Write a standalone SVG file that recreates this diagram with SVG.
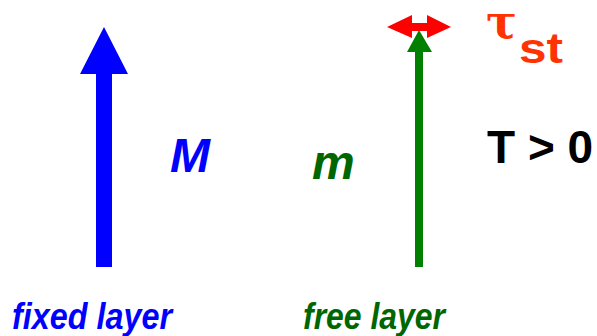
<svg xmlns="http://www.w3.org/2000/svg" width="597" height="336" viewBox="0 0 597 336">
<style>
text{font-family:"Liberation Sans",Arial,sans-serif;font-weight:bold}
.it{font-style:italic}
.greek{font-family:"DejaVu Serif",serif;font-weight:bold}
</style>
<rect width="597" height="336" fill="#fff"/>
<g id="fixed-arrow">
<polygon points="96,267 96,74 80,74 104,27 128,74 112,74 112,267" fill="#0000FF"/>
</g>
<g id="free-arrow">
<polygon points="415,267 415,52 407,52 419,30 432,52 423,52 423,267" fill="#008000"/>
</g>
<g id="torque-arrow">
<polygon points="387,27 412,15 412,23 427,23 427,15 451,27 427,38 427,31 412,31 412,38" fill="#FF0000"/>
</g>
<g id="labels">
<text class="greek" x="486" y="38" font-size="46" fill="#FF3300">τ</text>
<text x="519" y="63" font-size="42" fill="#FF3300" textLength="44" lengthAdjust="spacingAndGlyphs">st</text>
<text x="487" y="163" font-size="46" fill="#000">T &gt; 0</text>
<text class="it" x="170" y="172" font-size="48" fill="#0000FF">M</text>
<text class="it" x="312" y="179" font-size="48" fill="#006600">m</text>
<text class="it" x="12" y="329" font-size="37" fill="#0000FF" textLength="160" lengthAdjust="spacingAndGlyphs">fixed layer</text>
<text class="it" x="303" y="329" font-size="37" fill="#006600" textLength="142" lengthAdjust="spacingAndGlyphs">free layer</text>
</g>
</svg>
